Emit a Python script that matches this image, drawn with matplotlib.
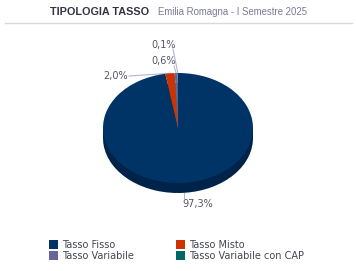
import numpy as np
import matplotlib
matplotlib.use('Agg')
import matplotlib.pyplot as plt
from matplotlib.patches import Rectangle

# Data
categories = ['Tasso Fisso', 'Tasso Misto', 'Tasso Variabile', 'Tasso Variabile con CAP']
values = [97.3, 2.0, 0.6, 0.1]
labels = ['97,3%', '2,0%', '0,6%', '0,1%']
colors = ['#003366', '#cc3300', '#666699', '#006666']
side_colors = ['#00234a', '#8f2400', '#47476b', '#004747']

W, H = 356, 271
fig = plt.figure(figsize=(W / 100, H / 100), dpi=100)

# background axes in pixel coords for title, rule line
bg = fig.add_axes([0, 0, 1, 1])
bg.set_xlim(0, W)
bg.set_ylim(H, 0)
bg.axis('off')
bg.text(50, 12, 'TIPOLOGIA TASSO', fontsize=7.8, fontweight='bold', color='#333344',
        family='Liberation Sans', ha='left', va='center')
bg.text(158, 12, 'Emilia Romagna - I Semestre 2025', fontsize=6.9, color='#7a7a99',
        family='Liberation Sans', ha='left', va='center')
bg.plot([5, 352], [22.5, 22.5], color='#d8d8e0', lw=1)

# pie axes: top face ellipse x 103..253, y 73..183 px, depth ~10px
px_l, px_r, px_t, px_b = 103, 253, 73, 193
depth = 10 / 55.0
pie_ax = fig.add_axes([px_l / W, 1 - px_b / H, (px_r - px_l) / W, (px_b - px_t) / H])

# side (3D depth)
pie_ax.pie(values, colors=side_colors, startangle=90, counterclock=False,
           center=(0, -depth), radius=1)
pie_ax.add_patch(Rectangle((-1, -depth), 2, depth, color=side_colors[0], zorder=0.5))
wedges, _ = pie_ax.pie(values, colors=colors, startangle=90, counterclock=False,
                       center=(0, 0), radius=1)
for w in wedges:
    w.set_zorder(2)
pie_ax.set_aspect('auto')
pie_ax.set_xlim(-1, 1)
pie_ax.set_ylim(-1 - depth, 1)
pie_ax.axis('off')

# labels with leader lines (positions in pixel coords)
cx, cy, rx, ry = 178, 128, 75, 55
lc = '#b0b8d0'
tc = '#555566'
cum = np.cumsum([0] + values[:-1])
mids = 90 - (cum + np.array(values) / 2) * 3.6
ex = cx + rx * np.cos(np.radians(mids))
ey = cy - ry * np.sin(np.radians(mids))

# 97,3%
bg.plot([184, 184], [ey[0] + 10, 198], color=lc, lw=0.8)
bg.text(182, 204, labels[0], fontsize=7, color=tc, ha='left', va='center')
# 2,0%
bg.plot([129, ex[1]], [76, ey[1]], color=lc, lw=0.8)
bg.text(128, 76, labels[1], fontsize=7, color=tc, ha='right', va='center')
# 0,6%
bg.plot([174, ex[2]], [66, ey[2]], color=lc, lw=0.8)
bg.text(164, 61, labels[2], fontsize=7, color=tc, ha='center', va='center')
# 0,1%
bg.plot([173, ex[3]], [49, ey[3]], color=lc, lw=0.8)
bg.text(164, 45, labels[3], fontsize=7, color=tc, ha='center', va='center')

# legend, row-wise order
order = [0, 2, 1, 3]
fig.legend([wedges[i] for i in order], [categories[i] for i in order], ncol=2,
           loc='upper left', bbox_to_anchor=(44 / W, 1 - 235 / H), frameon=False,
           fontsize=7, handlelength=0.95, handleheight=0.95, handletextpad=0.4,
           labelspacing=0.1, columnspacing=4.3, labelcolor='#444455', borderpad=0)

fig.savefig('out.png', dpi=100)
